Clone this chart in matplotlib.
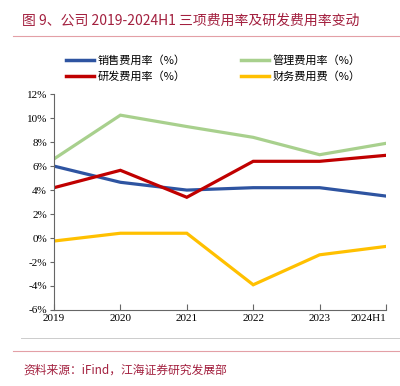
import matplotlib.pyplot as plt
from matplotlib.lines import Line2D

plt.rcParams['font.family'] = ['Liberation Serif', 'Noto Sans CJK SC']

years = ['2019', '2020', '2021', '2022', '2023', '2024H1']
sales = [6.0, 4.65, 4.0, 4.2, 4.2, 3.5]
admin = [6.6, 10.25, 9.3, 8.4, 6.95, 7.9]
rnd = [4.2, 5.65, 3.4, 6.4, 6.4, 6.9]
finance = [-0.25, 0.4, 0.4, -3.9, -1.4, -0.7]

names = ['销售费用率（%）', '管理费用率（%）', '研发费用率（%）', '财务费用费（%）']
colors = ['#2E54A1', '#A8D08D', '#C00000', '#FFC000']

fig = plt.figure(figsize=(4.0, 3.86), dpi=100)
ax = fig.add_axes([0.135, 0.197, 0.83, 0.559])

x = range(len(years))
for vals, c in zip([sales, admin, rnd, finance], colors):
    ax.plot(x, vals, color=c, lw=2.3, solid_joinstyle='miter')

ax.set_xlim(0, len(years) - 1)
ax.set_ylim(-6, 12)
ax.set_yticks(range(-6, 13, 2))
ax.set_yticklabels([f'{v}%' for v in range(-6, 13, 2)])
ax.set_xticks(list(x))
ax.set_xticklabels(years)
ax.get_xticklabels()[-1].set_horizontalalignment('right')
for s in ['top', 'right']:
    ax.spines[s].set_visible(False)
for s in ['left', 'bottom']:
    ax.spines[s].set_color('#666666')
ax.tick_params(axis='y', direction='out', length=3, color='#666666', labelsize=8, pad=2)
ax.tick_params(axis='x', direction='in', length=4, color='#666666', labelsize=8, pad=3)

# ncol=2 fills by column, so reorder to get sales/admin on the first row
order = [0, 2, 1, 3]
handles = [Line2D([0], [0], color=colors[i], lw=2.5) for i in order]
fig.legend(handles, [names[i] for i in order], loc='upper left',
           bbox_to_anchor=(0.165, 0.857), ncol=2, frameon=False,
           handlelength=2.5, handletextpad=0.35, columnspacing=5.0, labelspacing=0.5,
           borderaxespad=0, borderpad=0,
           prop={'family': ['Noto Sans CJK SC'], 'size': 8})

fig.text(0.055, 0.947, '图 9、公司 2019-2024H1 三项费用率及研发费用率变动', color='#A3203F',
         fontsize=10, va='center', family=['Noto Sans CJK SC'])
fig.add_artist(Line2D([0.033, 1.0], [0.908, 0.908], color='#E3A0A6', lw=0.8))
fig.add_artist(Line2D([0.053, 1.0], [0.124, 0.124], color='#CCCCCC', lw=0.7))
fig.add_artist(Line2D([0.033, 1.0], [0.091, 0.091], color='#E3A0A6', lw=0.8))
fig.text(0.058, 0.042, '资料来源：iFind，江海证券研究发展部', color='#A3203F',
         fontsize=8.5, va='center', family=['Noto Sans CJK SC'])

fig.savefig('out.png', dpi=100)
